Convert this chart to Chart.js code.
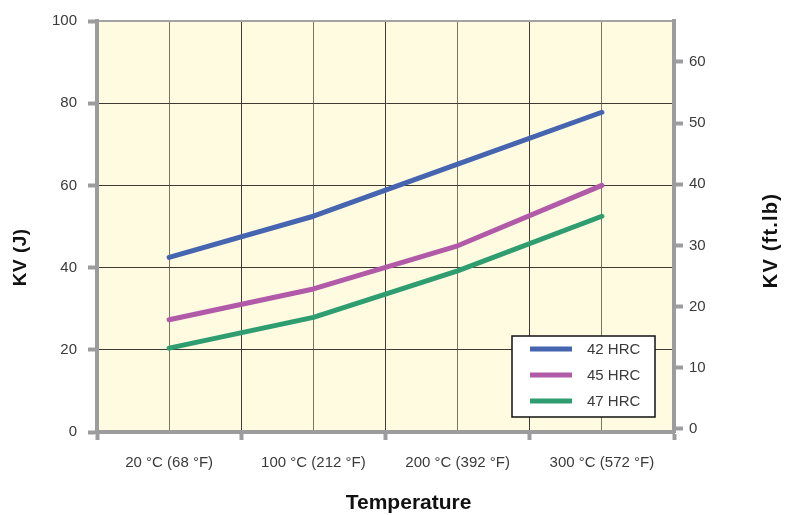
<!DOCTYPE html>
<html>
<head>
<meta charset="utf-8">
<style>
  html, body { margin: 0; padding: 0; background: #ffffff; }
  #wrap { width: 785px; height: 515px; }
</style>
<script src="https://cdn.jsdelivr.net/npm/chart.js@4.4.1/dist/chart.umd.min.js"></script>
</head>
<body>
<div id="wrap"><canvas id="c" width="785" height="515"></canvas></div>
<script>
// Impact energy (Charpy V) versus test temperature for three hardness levels
const temperatures = ['20 °C (68 °F)', '100 °C (212 °F)', '200 °C (392 °F)', '300 °C (572 °F)'];
const kvHrc42 = [42.5, 52.5, 65.2, 77.8];
const kvHrc45 = [27.3, 34.8, 45.3, 60.0];
const kvHrc47 = [20.4, 27.9, 39.2, 52.5];
const seriesNames = ['42 HRC', '45 HRC', '47 HRC'];
const seriesColors = ['#4565b0', '#b05aa8', '#2e9d70'];
const jouleTicks = [0, 20, 40, 60, 80, 100];
const footPoundTicks = [0, 10, 20, 30, 40, 50, 60];

const FONT = "'Liberation Sans', Arial, Helvetica, sans-serif";
const AXIS_GREY = '#9c9c9e';
const GRID_DARK = '#3f3b32';
const GRID_SOFT = '#7c7464';
const TEXT_GREY = '#3a3a3a';

Chart.defaults.font.family = FONT;

// Cream fill behind the plotting area
const plotBackground = {
  id: 'plotBackground',
  beforeDraw(chart) {
    const { ctx, chartArea: a } = chart;
    ctx.save();
    ctx.fillStyle = '#fffbe1';
    ctx.fillRect(a.left, a.top, a.right - a.left, a.bottom - a.top);
    ctx.restore();
  }
};

// Boxed legend in the lower right corner of the plot
const boxedLegend = {
  id: 'boxedLegend',
  afterDatasetsDraw(chart) {
    const { ctx, chartArea: a } = chart;
    const x0 = a.right - 162, y0 = a.bottom - 96, w = 143, h = 81;
    ctx.save();
    ctx.fillStyle = '#ffffff';
    ctx.fillRect(x0, y0, w, h);
    ctx.strokeStyle = '#111111';
    ctx.lineWidth = 1.5;
    ctx.strokeRect(x0, y0, w, h);
    ctx.font = '15px ' + FONT;
    ctx.textBaseline = 'middle';
    ctx.textAlign = 'left';
    chart.data.datasets.forEach((ds, i) => {
      const y = y0 + 13 + i * 26;
      ctx.strokeStyle = ds.borderColor;
      ctx.lineWidth = 5;
      ctx.lineCap = 'butt';
      ctx.beginPath();
      ctx.moveTo(x0 + 18, y);
      ctx.lineTo(x0 + 60, y);
      ctx.stroke();
      ctx.fillStyle = TEXT_GREY;
      ctx.fillText(ds.label, x0 + 75, y + 1);
    });
    ctx.restore();
  }
};

// Axis titles: both vertical ones read bottom to top
function drawTitle(ctx, text, x, y, size, spacing, angle) {
  ctx.save();
  ctx.font = 'bold ' + size + 'px ' + FONT;
  ctx.fillStyle = '#111111';
  ctx.textAlign = 'center';
  ctx.textBaseline = 'middle';
  if ('letterSpacing' in ctx) ctx.letterSpacing = spacing + 'px';
  ctx.translate(x, y);
  if (angle) ctx.rotate(angle);
  ctx.fillText(text, 0, 0);
  ctx.restore();
}

const axisTitles = {
  id: 'axisTitles',
  afterDraw(chart) {
    const { ctx } = chart;
    const left = chart.scales.y, right = chart.scales.y2, bottom = chart.scales.x;
    drawTitle(ctx, 'KV (J)', left.left + 21, left.getPixelForValue(42.5), 19, 0.5, -Math.PI / 2);
    drawTitle(ctx, 'KV (ft.lb)', right.right - 14, right.getPixelForValue(30.8), 20, 1.2, -Math.PI / 2);
    drawTitle(ctx, 'Temperature', bottom.getPixelForValue(1.66), bottom.bottom - 12, 21, 0, 0);
  }
};

const makeSeries = (label, data, color) => ({
  label, data,
  borderColor: color,
  backgroundColor: color,
  borderWidth: 5,
  pointRadius: 0,
  pointHoverRadius: 0,
  tension: 0,
  borderCapStyle: 'round',
  borderJoinStyle: 'round',
  fill: false,
  yAxisID: 'y',
  xAxisID: 'x'
});

new Chart(document.getElementById('c'), {
  type: 'line',
  data: {
    labels: temperatures,
    datasets: [
      makeSeries(seriesNames[0], kvHrc42, seriesColors[0]),
      makeSeries(seriesNames[1], kvHrc45, seriesColors[1]),
      makeSeries(seriesNames[2], kvHrc47, seriesColors[2])
    ]
  },
  options: {
    responsive: false,
    animation: false,
    devicePixelRatio: 1,
    layout: { padding: 0 },
    plugins: { legend: { display: false }, tooltip: { enabled: false }, title: { display: false } },
    scales: {
      x: {
        type: 'category',
        position: 'bottom',
        offset: true,
        grid: { offset: true, color: GRID_DARK, lineWidth: 1, tickLength: 8, tickColor: AXIS_GREY, tickWidth: 4 },
        border: { color: AXIS_GREY, width: 4 },
        ticks: { padding: 14, color: TEXT_GREY, font: { size: 15 }, maxRotation: 0, autoSkip: false },
        title: { display: false },
        afterFit(s) { s.height = 83; }
      },
      xt: {
        type: 'category',
        position: 'top',
        offset: true,
        grid: { offset: false, color: GRID_SOFT, lineWidth: 1, drawTicks: false },
        border: { color: '#a3a3a5', width: 2 },
        ticks: { display: false },
        afterFit(s) { s.height = 21; }
      },
      y: {
        type: 'linear',
        position: 'left',
        min: 0,
        max: 100,
        afterBuildTicks(s) { s.ticks = jouleTicks.map(v => ({ value: v })); },
        grid: { color: GRID_DARK, lineWidth: 1, tickLength: 9, tickColor: AXIS_GREY, tickWidth: 4 },
        border: { color: AXIS_GREY, width: 4 },
        ticks: { padding: 11, color: TEXT_GREY, font: { size: 15 } },
        afterFit(s) { s.width = 97; }
      },
      y2: {
        type: 'linear',
        position: 'right',
        min: -0.5,
        max: 66.7,
        afterBuildTicks(s) { s.ticks = footPoundTicks.map(v => ({ value: v })); },
        grid: { drawOnChartArea: false, tickLength: 9, tickColor: AXIS_GREY, tickWidth: 4 },
        border: { color: AXIS_GREY, width: 4 },
        ticks: { padding: 6, color: TEXT_GREY, font: { size: 15 } },
        afterFit(s) { s.width = 111; }
      }
    }
  },
  plugins: [plotBackground, boxedLegend, axisTitles]
});
</script>
</body>
</html>
